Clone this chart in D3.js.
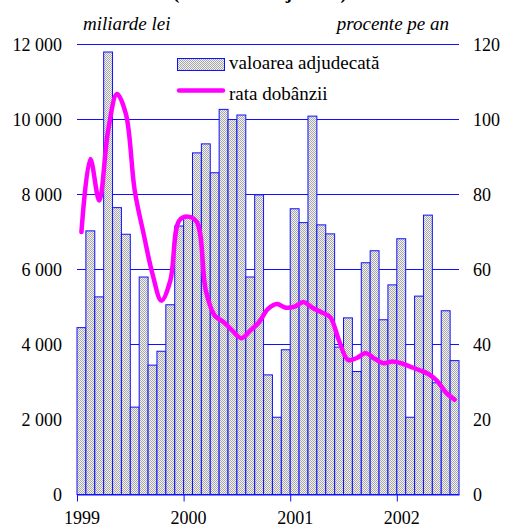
<!DOCTYPE html>
<html>
<head>
<meta charset="utf-8">
<script src="https://cdn.jsdelivr.net/npm/d3@7"></script>
<style>
  body { margin: 0; background: #fff; }
</style>
</head>
<body>
<div id="chart"></div>
<script>
// datos
var years = ["1999", "2000", "2001", "2002"];
// valoarea adjudecata, miliarde lei (ian 1999 - iul 2002)
var valoare = [4450, 7030, 5270, 11800, 7650, 6940, 2330, 5800, 3450, 3820, 5060, 7160,
               7400, 9110, 9350, 8580, 10270, 10000, 10120, 5800, 7990, 3190, 2060, 3860,
               7620, 7250, 10090, 7190, 6950, 3930, 4710, 3280, 6180, 6500, 4660, 5590,
               6820, 2060, 5290, 7450, 2980, 4900, 3570];
// rata dobanzii, procente pe an
var rata = [70, 89.5, 78.4, 97, 106.8, 101.5, 81, 69.5, 58.8, 51.7, 57, 73,
            74.1, 72.6, 54.4, 47.7, 46, 43.7, 41.7, 43.7, 46, 49.5, 50.8, 49.8,
            50.1, 51.3, 49.8, 48.6, 47.3, 41, 35.9, 36.4, 37.7, 36.2, 35, 35.5,
            35, 34.1, 33.2, 32.2, 30.4, 27.3, 25.3];
var leftTicks = [0, 2000, 4000, 6000, 8000, 10000, 12000];
var rightTicks = [0, 20, 40, 60, 80, 100, 120];
var legendLabels = ["valoarea adjudecată", "rata dobânzii"];

var width = 506, height = 526;
var x0 = 77, x1 = 459, yTop = 44.5, yBottom = 494.5;
var blue = "#1010ff", magenta = "#ff00ff";
var font = "Liberation Serif, serif";

var svg = d3.select("#chart")
            .append("svg")
            .attr("width", width)
            .attr("height", height)
            .attr("font-family", font);

// pattern punctat pentru bare
var pat = svg.append("defs")
  .append("pattern")
  .attr("id", "dots")
  .attr("patternUnits", "userSpaceOnUse")
  .attr("width", 2)
  .attr("height", 2);
pat.append("rect").attr("width", 2).attr("height", 2).attr("fill", "#f2f2f2");
pat.append("rect").attr("width", 1).attr("height", 1).attr("fill", "#a8a8a8");
pat.append("rect").attr("x", 1).attr("y", 1).attr("width", 1).attr("height", 1).attr("fill", "#a8a8a8");

// scales
var xScale = d3.scaleLinear().domain([0, valoare.length]).range([x0, x1]);
var yLeft = d3.scaleLinear().domain([0, 12000]).range([yBottom, yTop]);
var yRight = d3.scaleLinear().domain([0, 120]).range([yBottom, yTop]);

var fmt = d3.formatLocale({decimal: ",", thousands: " ", grouping: [3], currency: ["", ""]}).format(",d");

// titlu (taiat sus, se vede doar partea de jos)
svg.append("text")
   .attr("x", 260)
   .attr("y", -1)
   .attr("text-anchor", "middle")
   .attr("font-size", 19)
   .attr("font-weight", "bold")
   .text("(date lunare ajustate)");

// grid
svg.append("g")
   .selectAll("line")
   .data(leftTicks.slice(1))
   .join("line")
   .attr("x1", x0)
   .attr("x2", x1)
   .attr("y1", d => yLeft(d))
   .attr("y2", d => yLeft(d))
   .attr("stroke", blue)
   .attr("stroke-width", 1);

// bare
svg.append("g")
   .selectAll("rect")
   .data(valoare)
   .join("rect")
   .attr("x", (d, i) => xScale(i))
   .attr("y", d => yLeft(d))
   .attr("width", xScale(1) - xScale(0))
   .attr("height", d => yBottom - yLeft(d))
   .attr("fill", "url(#dots)")
   .attr("stroke", blue)
   .attr("stroke-width", 1);

// linia ratei
var line = d3.line()
  .x((d, i) => xScale(i + 0.5))
  .y(d => yRight(d))
  .curve(d3.curveCatmullRom);
svg.append("path")
   .datum(rata)
   .attr("d", line)
   .attr("fill", "none")
   .attr("stroke", magenta)
   .attr("stroke-width", 4.5)
   .attr("stroke-linecap", "round")
   .attr("stroke-linejoin", "round");

// axa X
var xAxis = svg.append("g")
  .attr("transform", "translate(0," + yBottom + ")")
  .call(d3.axisBottom(xScale)
          .tickValues([0, 12, 24, 36])
          .tickFormat(d => years[d / 12])
          .tickSize(7)
          .tickSizeOuter(0));
xAxis.attr("font-family", font).attr("font-size", 18);
xAxis.select(".domain").attr("stroke", blue);
xAxis.selectAll(".tick line").attr("stroke", blue);
xAxis.selectAll(".tick text")
     .attr("fill", "#000")
     .attr("dx", 4.5)
     .attr("y", 17);

// axa stanga
svg.append("g")
   .selectAll("text")
   .data(leftTicks)
   .join("text")
   .attr("x", 62)
   .attr("y", d => yLeft(d) + 6)
   .attr("text-anchor", "end")
   .attr("font-size", 18)
   .text(d => fmt(d));

// axa dreapta
svg.append("g")
   .selectAll("text")
   .data(rightTicks)
   .join("text")
   .attr("x", 473)
   .attr("y", d => yRight(d) + 6)
   .attr("font-size", 18)
   .text(d => d);

// unitati
svg.append("text")
   .attr("x", 83)
   .attr("y", 30)
   .attr("font-size", 19)
   .attr("font-style", "italic")
   .text("miliarde lei");
svg.append("text")
   .attr("x", 449)
   .attr("y", 30)
   .attr("text-anchor", "end")
   .attr("font-size", 19)
   .attr("font-style", "italic")
   .text("procente pe an");

// legenda
var leg = svg.append("g");
leg.append("rect")
   .attr("x", 177.5).attr("y", 58.5)
   .attr("width", 47).attr("height", 12)
   .attr("fill", "url(#dots)")
   .attr("stroke", blue);
leg.append("line")
   .attr("x1", 179).attr("x2", 223)
   .attr("y1", 90.5).attr("y2", 90.5)
   .attr("stroke", magenta)
   .attr("stroke-width", 4.5)
   .attr("stroke-linecap", "round");
leg.selectAll("text")
   .data(legendLabels)
   .join("text")
   .attr("x", 229)
   .attr("y", (d, i) => i == 0 ? 69 : 100)
   .attr("font-size", 19)
   .text(d => d);
</script>
</body>
</html>
